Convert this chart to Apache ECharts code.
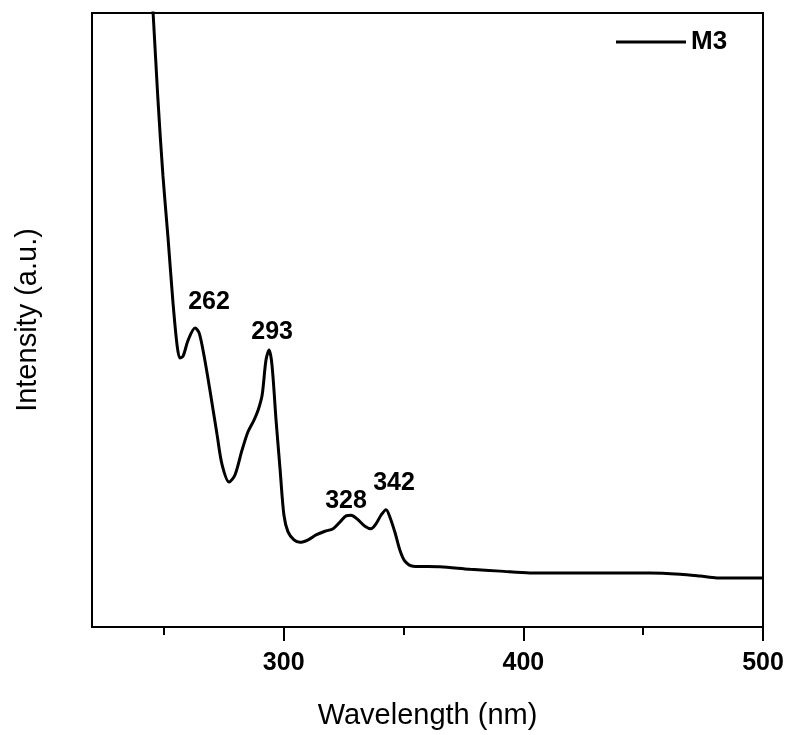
<!DOCTYPE html>
<html>
<head>
<meta charset="utf-8">
<script src="https://cdn.jsdelivr.net/npm/echarts@6/dist/echarts.min.js"></script>
<style>
  html, body { margin: 0; padding: 0; background: #fff; }
  #main { width: 791px; height: 735px; }
</style>
</head>
<body>
<div id="main"></div>
<script>
// spectrum M3 (intensity in arbitrary units 0-100)
var wavelength = [243, 245.5, 247.5, 249.6, 251.7, 253.8, 255.5, 256.7, 258.0, 260.1, 263.0, 264.7, 266.7, 269.2,
  272.2, 274.3, 277.2, 279.7, 282.6, 285.1, 287.6, 289.3, 291.0, 292.6, 293.9, 295.1, 296.8, 298.5, 300.1,
  301.8, 304.3, 306.8, 310.2, 313.5, 317.2, 320.6, 323.5, 326.0, 328.1, 330.6, 333.9, 336.4, 338.5, 340.6,
  342.7, 344.4, 346.5, 348.5, 350.6, 354.0, 365.2, 377.8, 390.3, 402.8, 432.0, 452.9, 465.4, 473.8, 480.8, 500];
var intensity = [116, 100, 86, 73.5, 63.5, 52.8, 45.9, 43.8, 44.1, 46.7, 48.7, 47.9, 44.3, 38.6,
  31.3, 26.4, 23.6, 24.8, 28.8, 31.8, 33.7, 35.3, 37.8, 43.5, 45.1, 42.7, 33.7, 25.6, 18.2,
  15.5, 14.2, 13.8, 14.2, 15.0, 15.6, 16.0, 17.1, 18.1, 18.2, 17.6, 16.4, 16.0, 16.8, 18.2,
  19.1, 17.8, 15.3, 12.5, 10.7, 9.9, 9.8, 9.4, 9.1, 8.8, 8.8, 8.8, 8.6, 8.3, 8.0, 8.0];

var peakLabels = ['262', '293', '328', '342'];
var peakWl = [263.0, 293.9, 328.1, 342.7];
var peakY = [48.7, 45.1, 18.2, 19.1];
var peakOffset = [[14, -26], [3, -18], [-5, -14], [8, -27]];

var majorTicks = [300, 400, 500];
var minorTicks = [250, 350, 450];

var FONT = 'Liberation Sans, Arial, sans-serif';

var lineData = [];
for (var i = 0; i < wavelength.length; i++) {
  lineData.push([wavelength[i], intensity[i]]);
}
var peakData = [];
for (var k = 0; k < peakLabels.length; k++) {
  peakData.push({
    value: [peakWl[k], peakY[k]],
    name: peakLabels[k],
    label: { offset: peakOffset[k] }
  });
}

var chart = echarts.init(document.getElementById('main'));
var option = {
  backgroundColor: '#fff',
  animation: false,
  grid: {
    left: 92, right: 28, top: 13, bottom: 108,
    show: true, borderColor: '#000', borderWidth: 2
  },
  legend: {
    data: ['M3'],
    left: 611, top: 24,
    itemWidth: 70, itemHeight: 26, itemGap: 5,
    icon: 'path://M0,12 L70,12 L70,15 L0,15 Z',
    itemStyle: { color: '#000' },
    textStyle: { fontFamily: FONT, fontSize: 26, fontWeight: 'bold', color: '#000' }
  },
  xAxis: [
    {
      type: 'value', min: 220, max: 500, position: 'bottom',
      name: 'Wavelength (nm)', nameLocation: 'middle', nameGap: 74,
      nameTextStyle: { fontFamily: FONT, fontSize: 29, color: '#000' },
      axisLine: { show: true, onZero: false, lineStyle: { color: '#000', width: 2 } },
      axisTick: { show: true, customValues: majorTicks, length: 14, lineStyle: { color: '#000', width: 2 } },
      axisLabel: { customValues: majorTicks, margin: 24, fontFamily: FONT, fontSize: 25, fontWeight: 'bold', color: '#000' },
      splitLine: { show: false }
    },
    {
      type: 'value', min: 220, max: 500, position: 'bottom', offset: 0,
      axisLine: { show: false },
      axisTick: { show: true, customValues: minorTicks, length: 8, lineStyle: { color: '#000', width: 2 } },
      axisLabel: { show: false },
      splitLine: { show: false }
    }
  ],
  yAxis: {
    type: 'value', min: 0, max: 100,
    name: 'Intensity (a.u.)', nameLocation: 'middle', nameGap: 50,
    nameTextStyle: { fontFamily: FONT, fontSize: 29, color: '#000' },
    axisLine: { show: true, lineStyle: { color: '#000', width: 2 } },
    axisTick: { show: false },
    axisLabel: { show: false },
    splitLine: { show: false }
  },
  series: [
    {
      name: 'M3',
      type: 'line',
      data: lineData,
      smooth: 0.3,
      symbol: 'none',
      clip: true,
      lineStyle: { color: '#000', width: 3 },
      itemStyle: { color: '#000' }
    },
    {
      name: 'peaks',
      type: 'scatter',
      data: peakData,
      symbolSize: 0,
      silent: true,
      itemStyle: { opacity: 1, color: '#000' },
      label: {
        show: true, position: 'inside',
        formatter: '{b}',
        fontFamily: FONT, fontSize: 25, fontWeight: 'bold', color: '#000'
      }
    }
  ]
};
chart.setOption(option);
</script>
</body>
</html>
